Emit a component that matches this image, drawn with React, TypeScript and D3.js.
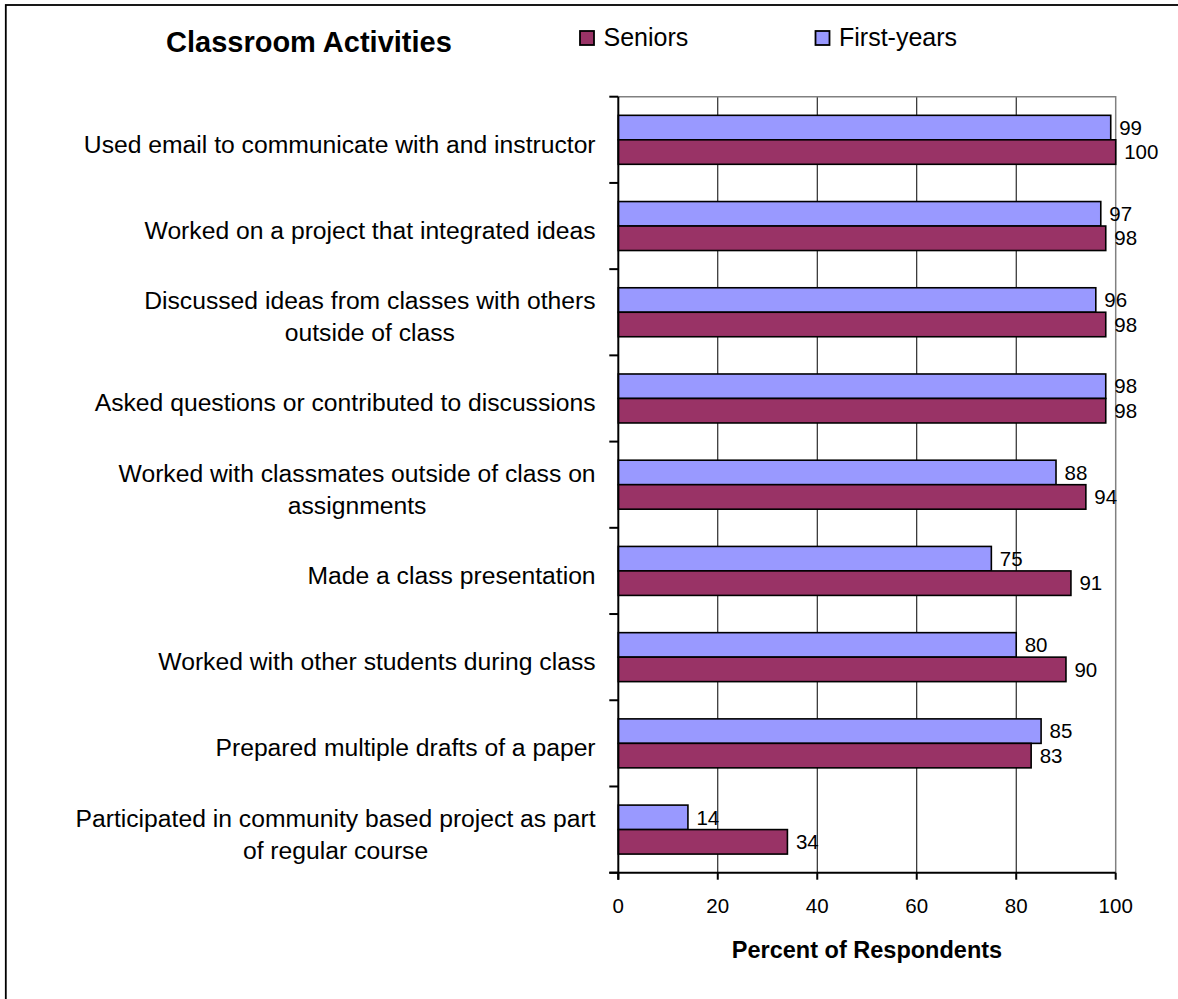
import React, { useEffect, useRef } from "react";
import * as d3 from "d3";

const categories = [
  "Used email to communicate with and instructor",
  "Worked on a project that integrated ideas",
  "Discussed ideas from classes with others\noutside of class",
  "Asked questions or contributed to discussions",
  "Worked with classmates outside of class on\nassignments",
  "Made a class presentation",
  "Worked with other students during class",
  "Prepared multiple drafts of a paper",
  "Participated in community based project as part\nof regular course",
];
const firstYears = [99, 97, 96, 98, 88, 75, 80, 85, 14];
const seniors = [100, 98, 98, 98, 94, 91, 90, 83, 34];
const xTicks = [0, 20, 40, 60, 80, 100];
const seriesNames = ["Seniors", "First-years"];
const seriesColors = ["#993366", "#9999FF"];
const title = "Classroom Activities";
const xTitle = "Percent of Respondents";

const W = 1178;
const H = 999;
const FONT = "'Liberation Sans', Arial, sans-serif";

export default function App() {
  const ref = useRef<SVGSVGElement | null>(null);

  useEffect(() => {
    const svg = d3.select(ref.current);
    svg.selectAll("*").remove();

    const left = 618.3, right = 1115.7, top = 96.7, bottom = 872.7;
    const x = d3.scaleLinear().domain([0, 100]).range([left, right]);
    const y = d3.scaleBand<string>().domain(categories).range([top, bottom]).padding(0);
    const bw = y.bandwidth();
    const barH = bw * 0.284;
    const off = (bw - 2 * barH) / 2;

    // outer border
    svg.append("rect").attr("x", 5.8).attr("y", 5).attr("width", 1300).attr("height", 1300)
      .attr("fill", "white").attr("stroke", "black").attr("stroke-width", 1.8);

    // gridlines
    svg.append("g").selectAll("line").data(xTicks.filter((t) => t > 0 && t < 100)).join("line")
      .attr("x1", (d) => x(d)).attr("x2", (d) => x(d)).attr("y1", top).attr("y2", bottom)
      .attr("stroke", "black").attr("stroke-width", 1);

    // plot border top/right gray
    svg.append("path")
      .attr("d", `M${left},${top}H${right}V${bottom}`)
      .attr("fill", "none").attr("stroke", "#808080").attr("stroke-width", 1.5);

    // bars
    const g = svg.append("g");
    g.selectAll("rect.fy").data(categories).join("rect").attr("class", "fy")
      .attr("x", left).attr("y", (d) => (y(d) as number) + off)
      .attr("width", (d, i) => x(firstYears[i]) - left).attr("height", barH)
      .attr("fill", seriesColors[1]).attr("stroke", "black").attr("stroke-width", 1.6);
    g.selectAll("rect.sn").data(categories).join("rect").attr("class", "sn")
      .attr("x", left).attr("y", (d) => (y(d) as number) + off + barH)
      .attr("width", (d, i) => x(seniors[i]) - left).attr("height", barH)
      .attr("fill", seriesColors[0]).attr("stroke", "black").attr("stroke-width", 1.6);

    // data labels
    const lbl = svg.append("g").attr("font-family", FONT).attr("font-size", 20.5).attr("fill", "black");
    lbl.selectAll("text.fy").data(categories).join("text").attr("class", "fy")
      .attr("x", (d, i) => x(firstYears[i]) + 8.5)
      .attr("y", (d) => (y(d) as number) + off + barH / 2 + 7.2)
      .text((d, i) => String(firstYears[i]));
    lbl.selectAll("text.sn").data(categories).join("text").attr("class", "sn")
      .attr("x", (d, i) => x(seniors[i]) + 8.5)
      .attr("y", (d) => (y(d) as number) + off + barH * 1.5 + 7.2)
      .text((d, i) => String(seniors[i]));

    // axes
    svg.append("line").attr("x1", left).attr("x2", left).attr("y1", top).attr("y2", bottom + 7)
      .attr("stroke", "black").attr("stroke-width", 2);
    svg.append("line").attr("x1", left - 9).attr("x2", right).attr("y1", bottom).attr("y2", bottom)
      .attr("stroke", "black").attr("stroke-width", 2);
    // y ticks at boundaries
    const bounds = d3.range(categories.length + 1).map((i) => top + i * bw);
    svg.append("g").selectAll("line").data(bounds).join("line")
      .attr("x1", left - 9).attr("x2", left).attr("y1", (d) => d).attr("y2", (d) => d)
      .attr("stroke", "black").attr("stroke-width", 2);
    // x ticks
    svg.append("g").selectAll("line").data(xTicks).join("line")
      .attr("x1", (d) => x(d)).attr("x2", (d) => x(d)).attr("y1", bottom).attr("y2", bottom + 7)
      .attr("stroke", "black").attr("stroke-width", 2);
    svg.append("g").attr("font-family", FONT).attr("font-size", 20.5).attr("text-anchor", "middle")
      .selectAll("text").data(xTicks).join("text")
      .attr("x", (d) => x(d)).attr("y", 913.3).text((d) => String(d));

    // x title
    svg.append("text").attr("x", (left + right) / 2).attr("y", 958).attr("text-anchor", "middle")
      .attr("font-family", FONT).attr("font-size", 23.5).attr("font-weight", "bold").text(xTitle);

    // category labels
    const catG = svg.append("g").attr("font-family", FONT).attr("font-size", 24.7).attr("fill", "black");
    const labelRight = 595.6;
    categories.forEach((c) => {
      const lines = c.split("\n");
      const center = (y(c) as number) + bw / 2;
      const t = catG.append("text").attr("text-anchor", "middle");
      const spans = lines.map((ln, i) =>
        t.append("tspan").attr("y", center + 13 + (i - (lines.length - 1) / 2) * 32).text(ln)
      );
      let maxW = 0;
      spans.forEach((s) => {
        const n = s.node() as SVGTSpanElement;
        maxW = Math.max(maxW, n.getComputedTextLength());
      });
      spans.forEach((s) => s.attr("x", labelRight - maxW / 2));
    });

    // title
    svg.append("text").attr("x", 166).attr("y", 52).attr("font-family", FONT)
      .attr("font-size", 29).attr("font-weight", "bold").text(title);

    // legend
    const legX = [580, 815.5];
    const legOrder = [0, 1];
    legOrder.forEach((si, k) => {
      svg.append("rect").attr("x", legX[k]).attr("y", 31).attr("width", 14).attr("height", 14)
        .attr("fill", seriesColors[si]).attr("stroke", "black").attr("stroke-width", 1.8);
      svg.append("text").attr("x", legX[k] + 23.5).attr("y", 45.7).attr("font-family", FONT)
        .attr("font-size", 25).text(seriesNames[si]);
    });
  }, []);

  return (
    <svg
      ref={ref}
      width={W}
      height={H}
      style={{ position: "absolute", left: 0, top: 0, background: "white" }}
    />
  );
}
